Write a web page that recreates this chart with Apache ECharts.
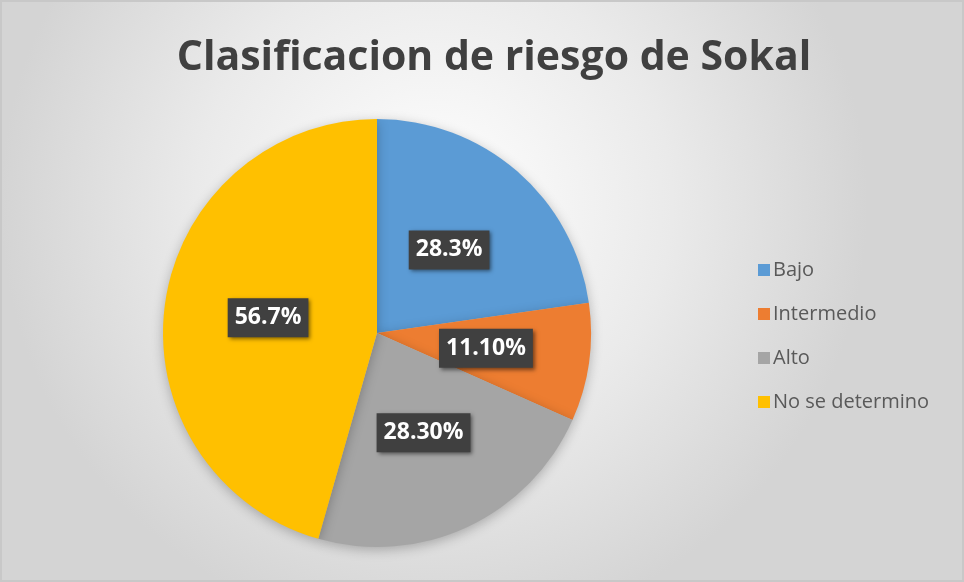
<!DOCTYPE html>
<html>
<head>
<meta charset="utf-8">
<script src="https://cdn.jsdelivr.net/npm/echarts@6/dist/echarts.min.js"></script>
<style>
html,body{margin:0;padding:0;background:#fff;}
#chart{width:964px;height:582px;box-sizing:border-box;border:2px solid #c8c8c8;}
</style>
</head>
<body>
<div id="chart"></div>
<script>
var categories=['Bajo','Intermedio','Alto','No se determino'];
var values=[28.3,11.1,28.3,56.7];
var labelTexts=['28.3%','11.10%','28.30%','56.7%'];
var colors=['#5B9BD5','#ED7D31','#A5A5A5','#FFC000'];

var font='"Open Sans",sans-serif';
var myChart=echarts.init(document.getElementById('chart'));
var pieData=[];
for(var i=0;i<categories.length;i++){
    pieData.push({name:categories[i],value:values[i],itemStyle:{color:colors[i]}});
}
var option={
    backgroundColor:{
        type:'radial',x:0.45,y:0.35,r:0.75,
        colorStops:[{offset:0,color:'#ffffff'},{offset:0.55,color:'#eaeaea'},{offset:1,color:'#d4d4d4'}]
    },
    title:{
        text:'Clasificacion de riesgo de Sokal',
        left:487,top:31,textAlign:'center',
        textStyle:{fontFamily:font,fontSize:41,fontWeight:'bold',color:'#404040'}
    },
    legend:{
        orient:'vertical',left:751,top:253,
        icon:'rect',itemWidth:12,itemHeight:12,itemGap:24,
        data:categories,
        textStyle:{fontFamily:font,fontSize:20,color:'#595959',padding:[0,0,0,-2]}
    },
    series:[{
        type:'pie',
        center:[375,331],radius:214,
        startAngle:90,clockwise:true,
        animation:false,
        data:pieData,
        itemStyle:{shadowBlur:12,shadowColor:'rgba(0,0,0,0.25)',shadowOffsetY:3},
        label:{
            position:'inside',
            formatter:function(p){return labelTexts[p.dataIndex];},
            fontFamily:font,fontSize:23,fontWeight:'bold',color:'#ffffff',
            backgroundColor:'#404040',padding:[9,7,7,7],
            shadowBlur:4,shadowColor:'rgba(0,0,0,0.5)',shadowOffsetX:2,shadowOffsetY:2
        },
        labelLine:{show:false},
        emphasis:{disabled:true}
    }]
};
myChart.setOption(option);
</script>
</body>
</html>
